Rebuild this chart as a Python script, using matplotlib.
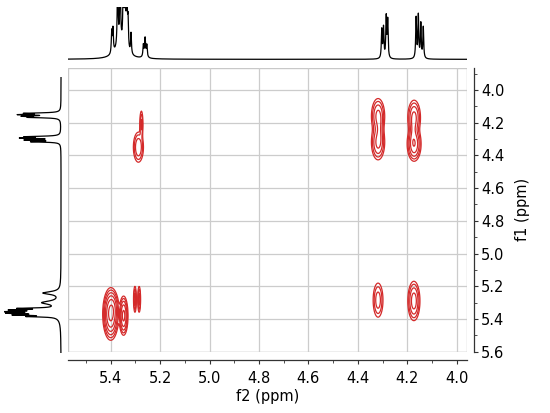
"""2D COSY-style contour plot with 1D projections on top and left."""

import numpy as np
import matplotlib

matplotlib.use("Agg")
import matplotlib.pyplot as plt
from matplotlib.patches import Rectangle

# ---- data ------------------------------------------------------------------
# top 1D spectrum (f2): peak position (ppm), height, half width (ppm)
top_ppm = [5.396, 5.391, 5.372, 5.362, 5.349, 5.342, 5.335, 5.330, 5.318, 5.360,
           5.268, 5.261, 5.254, 5.261,
           4.303, 4.296, 4.285, 4.279,
           4.164, 4.155, 4.145, 4.135]
top_height = [0.42, 0.45, 1.4, 1.5, 1.4, 1.5, 1.3, 0.55, 0.4, 0.25,
              0.22, 0.3, 0.22, 0.08,
              0.55, 0.58, 0.78, 0.72,
              0.78, 0.82, 0.66, 0.6]
top_width = [0.002] * 9 + [0.025] + [0.002] * 3 + [0.006] + [0.002] * 8

# left 1D spectrum (f1)
side_ppm = [4.142, 4.150, 4.160, 4.167,
            4.285, 4.293, 4.305, 4.316,
            5.241, 5.300, 5.335, 5.345, 5.355, 5.365, 5.375, 5.385, 5.360]
side_height = [0.56, 0.64, 0.56, 0.48,
               0.56, 0.62, 0.57, 0.48,
               0.3, 0.3, 0.58, 0.64, 0.66, 0.62, 0.6, 0.45, 0.22]
side_width = [0.003] * 8 + [0.010, 0.012] + [0.003] * 6 + [0.02]

# cross peaks: f2 (ppm), f1 (ppm), width f2, width f1, amplitude
cross_f2 = [5.400, 5.392, 5.348, 5.302, 5.285,
            5.288, 5.276,
            4.318, 4.318, 4.312, 4.172, 4.172, 4.176,
            4.173, 4.318]
cross_f1 = [5.370, 5.330, 5.380, 5.280, 5.280,
            4.350, 4.210,
            4.160, 4.320, 4.240, 4.170, 4.330, 4.250,
            5.290, 5.285]
cross_w2 = [0.012, 0.010, 0.0073, 0.003, 0.003,
            0.010, 0.0035,
            0.0125, 0.0125, 0.007, 0.012, 0.012, 0.007,
            0.011, 0.0105]
cross_w1 = [0.059, 0.04, 0.049, 0.042, 0.042,
            0.045, 0.045,
            0.05, 0.05, 0.05, 0.05, 0.045, 0.05,
            0.054, 0.055]
cross_amp = [40, 8, 20, 6, 6,
             8, 5,
             10, 10, 5, 10, 16, 5,
             12, 6]

levels = [1.0, 2.0, 4.0, 8.0, 16.0, 32.0]

xlim = (5.573, 3.958)
ylim = (5.602, 3.864)


def lorentz_sum(axis, pos, height, width):
    out = np.zeros_like(axis)
    for p, h, w in zip(pos, height, width):
        out += h * w**2 / ((axis - p) ** 2 + w**2)
    return out


fig = plt.figure(figsize=(5.5, 4.13), dpi=100)
plt.rcParams["font.size"] = 10.5

# main contour panel
ax = fig.add_axes([68 / 550, 61 / 413, 399 / 550, 284.3 / 413])
xx = np.linspace(*xlim, 800)
yy = np.linspace(ylim[1], ylim[0], 800)
X, Y = np.meshgrid(xx, yy)
Z = np.zeros_like(X)
for cx, cy, sx, sy, a in zip(cross_f2, cross_f1, cross_w2, cross_w1, cross_amp):
    Z += a * np.exp(-0.5 * (((X - cx) / sx) ** 2 + ((Y - cy) / sy) ** 2))
ax.contour(X, Y, Z, levels=levels, colors="#d42a2a", linewidths=0.9)

ax.set_xlim(*xlim)
ax.set_ylim(*ylim)
ax.set_xticks(np.arange(4.0, 5.41, 0.2))
ax.set_xticks(np.arange(4.0, 5.51, 0.1), minor=True)
ax.set_yticks(np.arange(4.0, 5.61, 0.2))
ax.set_yticks(np.arange(3.9, 5.61, 0.1), minor=True)
ax.xaxis.set_major_formatter(matplotlib.ticker.FormatStrFormatter("%.1f"))
ax.yaxis.set_major_formatter(matplotlib.ticker.FormatStrFormatter("%.1f"))
ax.grid(True, which="major", color="#cccccc", linewidth=0.9)
ax.set_axisbelow(True)

ax.spines["left"].set_visible(False)
ax.spines["top"].set_visible(False)
ax.spines["bottom"].set_position(("outward", 6))
ax.spines["right"].set_position(("outward", 5))
for s in ("bottom", "right"):
    ax.spines[s].set_color("#333333")
    ax.spines[s].set_linewidth(0.9)
ax.add_patch(Rectangle((0, 0), 1, 1, transform=ax.transAxes, fill=False,
                       edgecolor="#c8c8c8", linewidth=1.0, zorder=0.5))

ax.yaxis.tick_right()
ax.yaxis.set_label_position("right")
ax.tick_params(axis="x", which="major", length=3, pad=5, color="#333333")
ax.tick_params(axis="x", which="minor", length=2.5, color="#333333")
ax.tick_params(axis="y", which="major", length=3, pad=2, color="#333333")
ax.tick_params(axis="y", which="minor", length=2.5, color="#333333")
ax.set_xlabel("f2 (ppm)", labelpad=2)
ax.set_ylabel("f1 (ppm)", labelpad=8)

# top projection
ax_top = fig.add_axes([68 / 550, 353 / 413, 399 / 550, 52.7 / 413])
tx = np.linspace(*xlim, 8000)
ax_top.plot(tx, lorentz_sum(tx, top_ppm, top_height, top_width),
            color="black", linewidth=0.9)
ax_top.set_xlim(*xlim)
ax_top.set_ylim(-0.013, 1.0)
ax_top.axis("off")

# left projection
side_lim = (5.608, 3.92)
ax_side = fig.add_axes([4 / 550, 60 / 413, 59 / 550, 276 / 413])
sy_axis = np.linspace(side_lim[1], side_lim[0], 8000)
ax_side.plot(lorentz_sum(sy_axis, side_ppm, side_height, side_width), sy_axis,
             color="black", linewidth=0.9)
ax_side.set_ylim(*side_lim)
ax_side.set_xlim(1.0, -0.034)
ax_side.axis("off")

fig.savefig("out.png", dpi=100)
